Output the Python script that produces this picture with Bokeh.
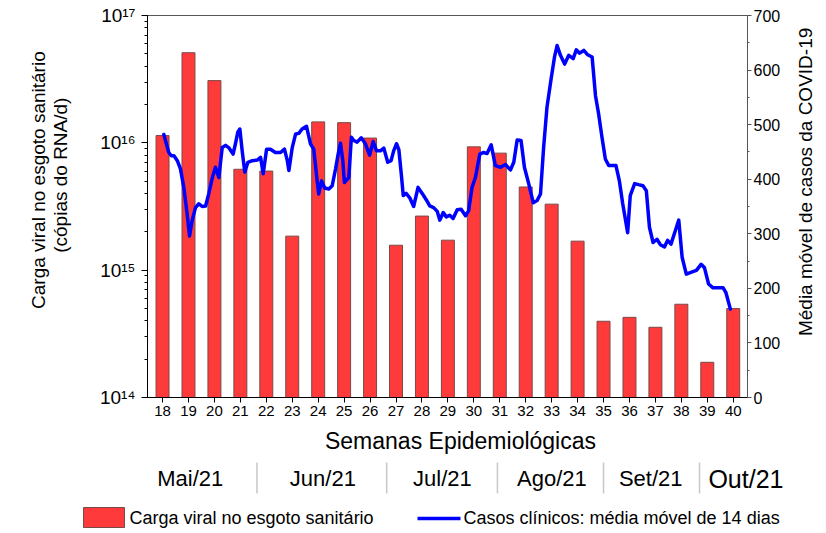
import math
from bokeh.plotting import figure
from bokeh.layouts import column, row
from bokeh.models import (Range1d, LinearAxis, LinearScale, SingleIntervalTicker, FixedTicker,
                          CustomJSTickFormatter)
from bokeh.core.properties import value
from bokeh.embed import file_html
from bokeh.resources import INLINE

# ---------------- data ----------------
weeks = [18, 19, 20, 21, 22, 23, 24, 25, 26, 27, 28, 29, 30, 31, 32, 33, 34, 35, 36, 37, 38, 39, 40]
carga_viral = [1.14e16, 5.1e16, 3.08e16, 6.2e15, 6.0e15, 1.85e15, 1.46e16, 1.44e16, 1.09e16,
               1.57e15, 2.66e15, 1.72e15, 9.3e15, 8.3e15, 4.5e15, 3.3e15, 1.69e15,
               3.97e14, 4.26e14, 3.56e14, 5.4e14, 1.89e14, 5.0e14]

casos_semana = [18.05, 18.24, 18.34, 18.44, 18.57, 18.69, 18.82, 18.95, 19.04, 19.14, 19.27, 19.40,
                19.53, 19.66, 19.78, 19.92, 20.04, 20.17, 20.30, 20.43, 20.55, 20.72, 20.81, 20.90,
                20.98, 21.07, 21.17, 21.29, 21.46, 21.65, 21.78, 21.88, 22.01, 22.16, 22.35, 22.55,
                22.70, 22.81, 22.87, 23.00, 23.13, 23.25, 23.38, 23.55, 23.70, 23.83, 23.96, 24.02,
                24.13, 24.25, 24.41, 24.54, 24.67, 24.77, 24.86, 24.95, 25.01, 25.18, 25.28, 25.37,
                25.50, 25.66, 25.82, 25.98, 26.12, 26.25, 26.40, 26.53, 26.68, 26.81, 26.91, 27.02,
                27.11, 27.21, 27.28, 27.39, 27.53, 27.68, 27.85, 28.01, 28.17, 28.30, 28.45, 28.59,
                28.69, 28.82, 28.94, 29.07, 29.20, 29.36, 29.51, 29.68, 29.80, 29.93, 30.06, 30.23,
                30.38, 30.51, 30.67, 30.83, 31.03, 31.22, 31.41, 31.54, 31.67, 31.82, 31.95, 32.12,
                32.29, 32.44, 32.57, 32.69, 32.82, 32.98, 33.11, 33.21, 33.34, 33.50, 33.66, 33.83,
                33.95, 34.08, 34.24, 34.39, 34.56, 34.69, 34.81, 34.94, 35.07, 35.20, 35.33, 35.48,
                35.61, 35.74, 35.93, 36.03, 36.20, 36.35, 36.52, 36.65, 36.77, 36.91, 37.06, 37.19,
                37.35, 37.47, 37.60, 37.77, 37.90, 38.03, 38.19, 38.34, 38.58, 38.76, 38.89, 39.05,
                39.22, 39.44, 39.61, 39.72, 39.89]
casos_media = [482, 449, 443, 443, 434, 419, 385, 336, 296, 324, 348, 355,
               350, 351, 373, 403, 422, 403, 458, 462, 458, 446, 465, 486,
               492, 452, 413, 431, 434, 435, 440, 410, 455, 455, 449, 449,
               455, 434, 416, 458, 483, 484, 492, 497, 465, 455, 397, 373,
               397, 384, 382, 388, 419, 446, 466, 434, 394, 403, 477, 471,
               468, 476, 465, 444, 469, 452, 452, 457, 431, 434, 452, 465,
               454, 406, 370, 374, 366, 350, 385, 374, 362, 351, 348, 341,
               325, 339, 331, 334, 328, 344, 345, 333, 342, 385, 403, 446,
               449, 447, 463, 425, 422, 427, 417, 431, 472, 471, 422, 391,
               357, 361, 373, 458, 532, 584, 624, 645, 627, 611, 627, 621,
               637, 631, 636, 628, 624, 553, 520, 477, 437, 425, 425, 425,
               397, 355, 302, 370, 392, 390, 388, 379, 312, 284, 290, 280,
               276, 288, 281, 306, 325, 257, 226, 229, 233, 244, 238, 208,
               201, 201, 201, 192, 162]

meses = ["Mai/21", "Jun/21", "Jul/21", "Ago/21", "Set/21", "Out/21"]
meses_centro = [19.07, 24.18, 28.79, 33.01, 36.82, 40.49]
meses_limite = [21.64, 26.64, 30.91, 35.0, 38.70]

legenda = ["Carga viral no esgoto sanitário", "Casos clínicos: média móvel de 14 dias"]

FONT = "Liberation Sans"

# ---------------- layout geometry (px) ----------------
TOTAL_W, TOTAL_H = 826, 533
LEFT_W, RIGHT_W = 88, 36
MAIN_W = TOTAL_W - LEFT_W - RIGHT_W
FRAME_L, FRAME_W = 147, 600
FRAME_T, FRAME_H = 15, 382
MAIN_H = 427
BOT_H = TOTAL_H - MAIN_H
MB_LEFT = FRAME_L - LEFT_W
MB_RIGHT = MAIN_W - MB_LEFT - FRAME_W
X0, X1 = 17.42, 40.55

# ---------------- main figure ----------------
p = figure(width=MAIN_W, height=MAIN_H, output_backend="svg", toolbar_location=None,
           x_range=Range1d(X0, X1), y_range=Range1d(1e14, 1e17), y_axis_type="log",
           min_border_left=MB_LEFT, min_border_right=MB_RIGHT, min_border_top=FRAME_T,
           min_border_bottom=MAIN_H - FRAME_T - FRAME_H)
p.background_fill_color = "white"
p.border_fill_color = "white"
p.grid.visible = False
p.outline_line_color = "#555555"
p.outline_line_width = 1

xa = p.xaxis[0]
xa.ticker = FixedTicker(ticks=weeks)
xa.major_tick_in = 0
xa.major_tick_out = 5
xa.minor_tick_out = 0
xa.minor_tick_in = 0
xa.major_label_standoff = 3
xa.major_label_text_font = FONT
xa.major_label_text_font_size = "15px"
xa.major_label_text_color = "black"
xa.axis_line_color = "black"
xa.major_tick_line_color = "black"

ya = p.yaxis[0]
ya.formatter = CustomJSTickFormatter(code="""
const sup = {'-':'\u207b','0':'\u2070','1':'\u00b9','2':'\u00b2','3':'\u00b3','4':'\u2074',
             '5':'\u2075','6':'\u2076','7':'\u2077','8':'\u2078','9':'\u2079'};
const e = Math.round(Math.log10(tick));
return '10' + String(e).split('').map(c => sup[c]).join('');
""")
ya.major_tick_in = 0
ya.major_tick_out = 6
ya.minor_tick_in = 0
ya.minor_tick_out = 3
ya.major_label_standoff = 6
ya.major_label_text_font = FONT
ya.major_label_text_font_size = "19px"
ya.major_label_text_color = "black"
ya.axis_line_color = "black"

p.extra_y_ranges = {"casos": Range1d(0, 700)}
p.extra_y_scales = {"casos": LinearScale()}
ra = LinearAxis(y_range_name="casos", ticker=SingleIntervalTicker(interval=100, num_minor_ticks=2))
ra.major_tick_in = 0
ra.major_tick_out = 4
ra.minor_tick_in = 0
ra.minor_tick_out = 2
ra.major_label_standoff = 2
ra.major_label_text_font = FONT
ra.major_label_text_font_size = "16px"
ra.major_label_text_color = "black"
ra.axis_line_color = "#555555"
ra.major_tick_line_color = "#555555"
ra.minor_tick_line_color = "#555555"
p.add_layout(ra, "right")

BAR_STYLE = dict(fill_color="#ff3a3a", line_color="#7a4848", line_width=1)
LINE_STYLE = dict(line_color="#0000ff", line_width=3.5, line_join="round", line_cap="round")

p.vbar(x=weeks, top=carga_viral, bottom=1e14, width=0.5, **BAR_STYLE)
p.line(casos_semana, casos_media, y_range_name="casos", **LINE_STYLE)


def strip(w, h, xr, yr):
    f = figure(width=w, height=h, output_backend="svg", toolbar_location=None,
               x_range=xr, y_range=yr, x_axis_location=None, y_axis_location=None,
               min_border=0, min_border_left=0, min_border_right=0,
               min_border_top=0, min_border_bottom=0)
    f.grid.visible = False
    f.outline_line_color = None
    f.background_fill_color = "white"
    f.border_fill_color = "white"
    return f


# ---------------- left / right title strips (px from their top-left) ----------------
left = strip(LEFT_W, MAIN_H, Range1d(0, LEFT_W), Range1d(MAIN_H, 0))
left.text(x=[38, 60], y=[184, 178.5],
          text=["Carga viral no esgoto sanitário", "(cópias do RNA/d)"],
          angle=math.pi / 2, text_align="center", text_baseline="middle",
          text_font=value(FONT), text_font_size="19px", text_color="black")

right = strip(RIGHT_W, MAIN_H, Range1d(0, RIGHT_W), Range1d(MAIN_H, 0))
right.text(x=[15], y=[186], text=["Média móvel de casos da COVID-19"],
           angle=math.pi / 2, text_align="center", text_baseline="middle",
           text_font=value(FONT), text_font_size="19px", text_color="black")

# ---------------- bottom strip: x in weeks (aligned with main), y in px from its top ----------------
k = (X1 - X0) / FRAME_W
bx0 = X0 - FRAME_L * k
bx1 = X1 + (TOTAL_W - FRAME_L - FRAME_W) * k
bottom = strip(TOTAL_W, BOT_H, Range1d(bx0, bx1), Range1d(BOT_H, 0))


def wk(px):
    return X0 + (px - FRAME_L) * k


bottom.text(x=[wk(460)], y=[13], text=["Semanas Epidemiológicas"],
            text_align="center", text_baseline="middle",
            text_font=value(FONT), text_font_size="23px", text_color="black")
bottom.text(x=meses_centro[:-1], y=[51] * (len(meses) - 1), text=meses[:-1],
            text_align="center", text_baseline="middle",
            text_font=value(FONT), text_font_size="22px", text_color="black")
bottom.text(x=meses_centro[-1:], y=[51], text=meses[-1:],
            text_align="center", text_baseline="middle",
            text_font=value(FONT), text_font_size="25px", text_color="black")
bottom.segment(x0=meses_limite, y0=[35] * len(meses_limite), x1=meses_limite,
               y1=[66] * len(meses_limite), line_color="#c8c8c8", line_width=1.5)

# legend (drawn by hand so it can sit under the left title area)
bottom.quad(left=[wk(83)], right=[wk(124)], top=[80], bottom=[100], **BAR_STYLE)
bottom.segment(x0=[wk(417)], y0=[91], x1=[wk(460)], y1=[91], line_color="#0000ff",
               line_width=3.5, line_cap="butt")
bottom.text(x=[wk(129), wk(463)], y=[90, 90], text=legenda,
            text_align="left", text_baseline="middle",
            text_font=value(FONT), text_font_size="18px", text_color="black")

layout = column(row(left, p, right), bottom)
open("out.html", "w").write(file_html(layout, INLINE))
